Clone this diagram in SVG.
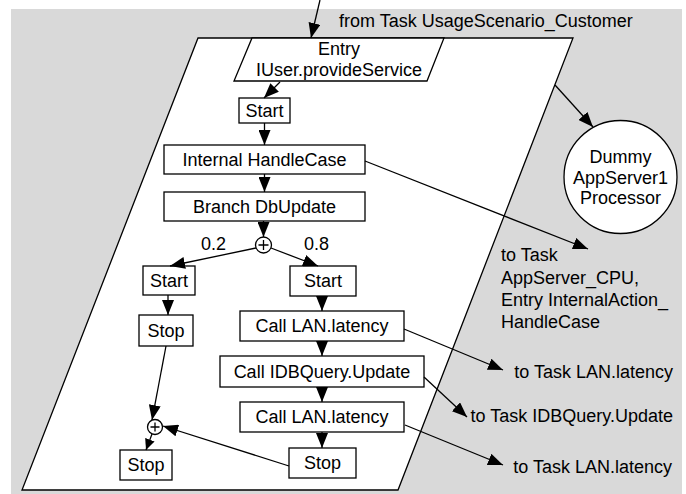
<svg xmlns="http://www.w3.org/2000/svg" width="686" height="494" viewBox="0 0 686 494">
<defs>
<marker id="ah" markerUnits="userSpaceOnUse" markerWidth="16" markerHeight="12" refX="15" refY="6" orient="auto">
<path d="M0,0 L15,6 L0,12 Z" fill="#000"/>
</marker>
<marker id="as" markerUnits="userSpaceOnUse" markerWidth="12" markerHeight="10" refX="11" refY="5" orient="auto">
<path d="M0,0 L11,5 L0,10 Z" fill="#000"/>
</marker>
<style>
text{font-family:"Liberation Sans",Arial,sans-serif;font-size:18px;fill:#000}
.c{text-anchor:middle}
.e{text-anchor:end}
.b{fill:#fff;stroke:#000;stroke-width:1.3}
.l{fill:none;stroke:#000;stroke-width:1.3}
.a{fill:none;stroke:#000;stroke-width:1.3;marker-end:url(#ah)}
.s{fill:none;stroke:#000;stroke-width:1.3;marker-end:url(#as)}
</style>
</defs>
<rect x="11" y="9" width="671" height="485" fill="#d9d9d9"/>
<g id="task">
<polygon class="b" points="198,38 573,38 398,490 22,490"/>
</g>
<g id="entry">
<polygon class="b" points="252,38 444,38 427,81 234,81"/>
<text class="c" x="339" y="55">Entry</text>
<text class="c" x="339" y="76">IUser.provideService</text>
</g>
<g id="start1"><rect class="b" x="239" y="98" width="51" height="25"/><text class="c" x="264.5" y="117">Start</text></g>
<g id="internal"><rect class="b" x="164" y="145" width="201" height="29"/><text class="c" x="264.5" y="166">Internal HandleCase</text></g>
<g id="branch"><rect class="b" x="164" y="192" width="201" height="29"/><text class="c" x="264.5" y="213">Branch DbUpdate</text></g>
<g id="fork"><circle class="b" cx="263.5" cy="245" r="8"/><path class="l" d="M258.5,245 H268.5 M263.5,240 V250"/></g>
<g id="startL"><rect class="b" x="143" y="266" width="52" height="29"/><text class="c" x="169" y="287">Start</text></g>
<g id="startR"><rect class="b" x="290" y="266" width="66" height="30"/><text class="c" x="323" y="287">Start</text></g>
<g id="stopL"><rect class="b" x="139" y="315" width="54" height="31"/><text class="c" x="166" y="337">Stop</text></g>
<g id="call1"><rect class="b" x="240" y="311" width="164" height="30"/><text class="c" x="322" y="332">Call LAN.latency</text></g>
<g id="call2"><rect class="b" x="220" y="356" width="204" height="31"/><text class="c" x="322" y="378">Call IDBQuery.Update</text></g>
<g id="call3"><rect class="b" x="240" y="402" width="164" height="30"/><text class="c" x="322" y="423">Call LAN.latency</text></g>
<g id="stopR"><rect class="b" x="289" y="448" width="67" height="30"/><text class="c" x="322.5" y="469">Stop</text></g>
<g id="join"><circle class="b" cx="155" cy="427" r="7.5"/><path class="l" d="M150.5,427 H159.5 M155,422.5 V431.5"/></g>
<g id="stopB"><rect class="b" x="120" y="450" width="52" height="30"/><text class="c" x="146" y="471">Stop</text></g>
<g id="dummy">
<circle class="b" cx="620.5" cy="177" r="56.5"/>
<text class="c" x="620.5" y="163">Dummy</text>
<text class="c" x="620.5" y="184">AppServer1</text>
<text class="c" x="620.5" y="204">Processor</text>
</g>
<g id="labels">
<text x="339" y="27">from Task UsageScenario_Customer</text>
<text x="201" y="250">0.2</text>
<text x="304" y="250">0.8</text>
<text x="501" y="261">to Task</text>
<text x="501" y="284">AppServer_CPU,</text>
<text x="501" y="306">Entry InternalAction_</text>
<text x="501" y="328">HandleCase</text>
<text class="e" x="673" y="378">to Task LAN.latency</text>
<text class="e" x="673" y="422">to Task IDBQuery.Update</text>
<text class="e" x="672" y="473">to Task LAN.latency</text>
</g>
<g id="connectors">
<line class="a" x1="320" y1="0" x2="311" y2="38"/>
<line class="a" x1="280" y1="82" x2="264" y2="98"/>
<line class="a" x1="264.5" y1="123" x2="264.5" y2="145"/>
<line class="a" x1="264.5" y1="174" x2="264.5" y2="192"/>
<line class="a" x1="263.5" y1="221" x2="263.5" y2="237"/>
<line class="a" x1="256" y1="248" x2="170" y2="266"/>
<line class="a" x1="271" y1="248" x2="318" y2="266"/>
<line class="a" x1="168" y1="295" x2="168" y2="315"/>
<line class="a" x1="322" y1="296" x2="322" y2="311"/>
<line class="a" x1="322" y1="341" x2="322" y2="356"/>
<line class="a" x1="322" y1="387" x2="322" y2="402"/>
<line class="a" x1="322" y1="432" x2="322" y2="448"/>
<line class="a" x1="166" y1="346" x2="152" y2="420"/>
<line class="a" x1="289" y1="466" x2="163" y2="426"/>
<line class="s" x1="152" y1="434" x2="146" y2="450"/>
<line class="a" x1="555" y1="85" x2="593" y2="127"/>
<line class="a" x1="365" y1="161" x2="588" y2="249"/>
<line class="a" x1="404" y1="329" x2="503" y2="370"/>
<line class="a" x1="424" y1="377" x2="467" y2="417"/>
<line class="a" x1="405" y1="425" x2="503" y2="465"/>
</g>
</svg>
